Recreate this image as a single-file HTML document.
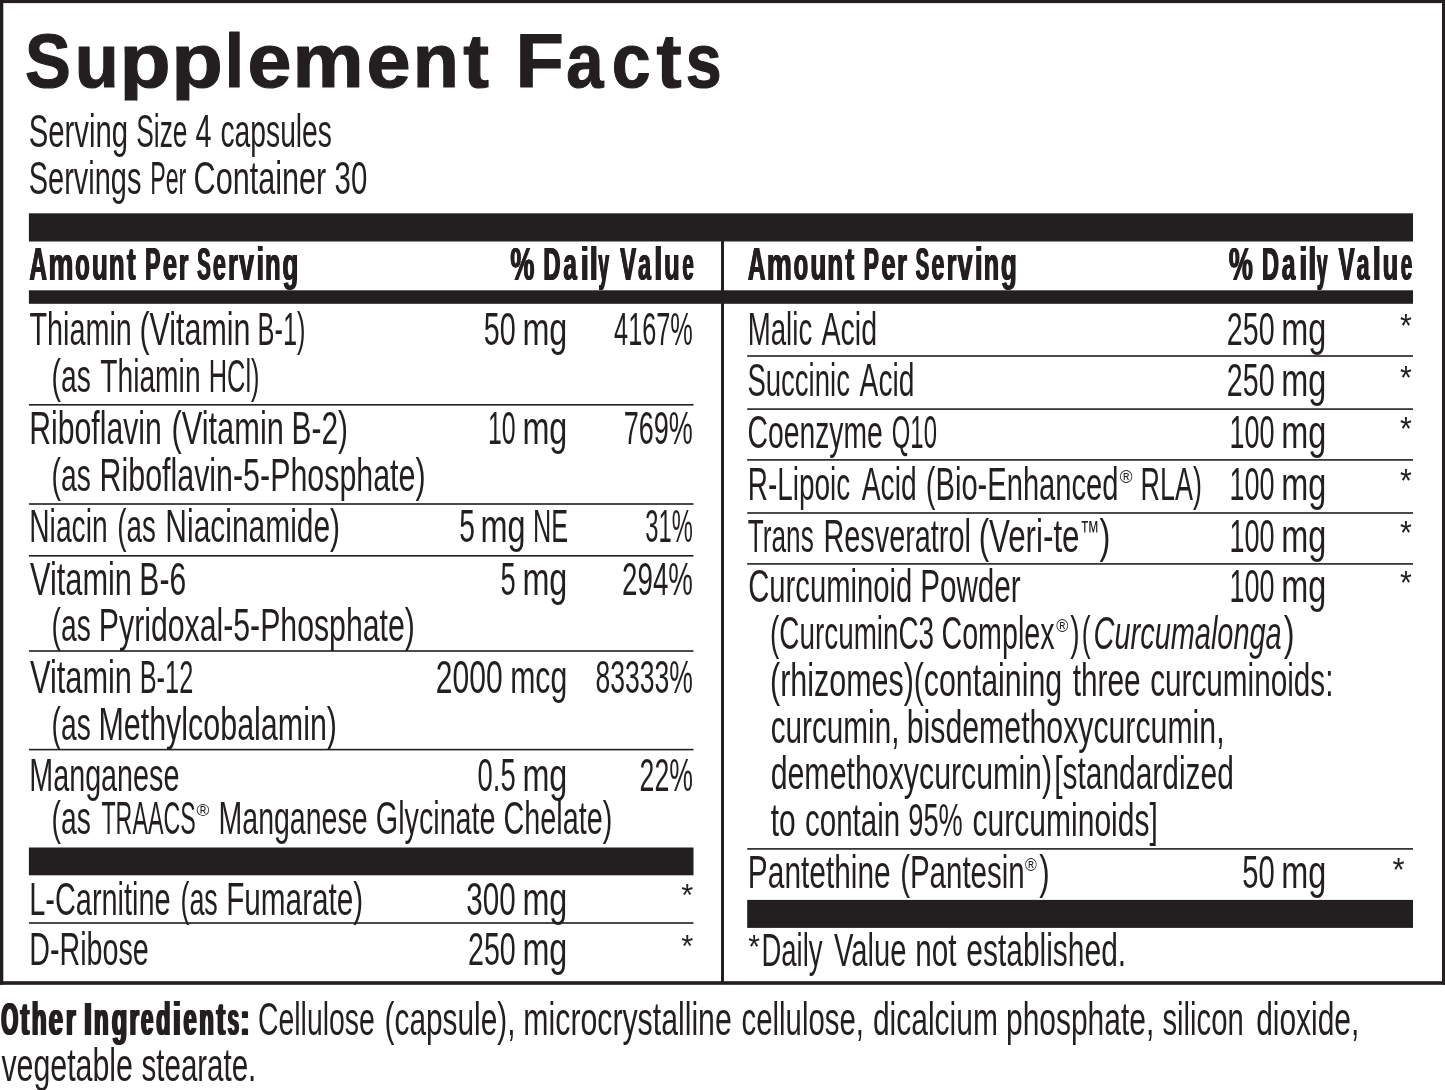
<!DOCTYPE html>
<html lang="en">
<head>
<meta charset="utf-8">
<title>Supplement Facts</title>
<style>
html,body{margin:0;padding:0;background:#fff;}
body{width:1445px;height:1090px;overflow:hidden;font-family:"Liberation Sans",sans-serif;}
svg{display:block;}
svg text{font-family:"Liberation Sans",sans-serif;fill:#231f20;white-space:pre;}
</style>
</head>
<body>
<svg width="1445" height="1090" viewBox="0 0 1445 1090">
<defs>
<filter id="fb" filterUnits="userSpaceOnUse" x="0" y="0" width="1445" height="1090" color-interpolation-filters="sRGB">
<feOffset in="SourceGraphic" dx="0.5" dy="0" result="a"/>
<feOffset in="SourceGraphic" dx="-0.5" dy="0" result="b"/>
<feMerge><feMergeNode in="a"/><feMergeNode in="b"/><feMergeNode in="SourceGraphic"/></feMerge>
</filter>
<filter id="fh" filterUnits="userSpaceOnUse" x="0" y="0" width="1445" height="1090" color-interpolation-filters="sRGB">
<feOffset in="SourceGraphic" dx="0.6" dy="0" result="a"/>
<feOffset in="SourceGraphic" dx="-0.6" dy="0" result="b"/>
<feMerge><feMergeNode in="a"/><feMergeNode in="b"/><feMergeNode in="SourceGraphic"/></feMerge>
</filter>
<clipPath id="tc"><rect x="0" y="0" width="1445" height="100.4"/></clipPath>
</defs>
<rect x="0" y="0" width="1445" height="1090" fill="#ffffff"/>
<g class="frame" fill="#231f20">
<rect x="0" y="0" width="1445" height="3.1"/>
<rect x="0" y="981.2" width="1445" height="3.6"/>
<rect x="0" y="0" width="3.3" height="984.8"/>
<rect x="1442" y="0" width="3" height="984.8"/>
</g>
<g class="rules" fill="#231f20">
<rect x="28.90" y="213.30" width="1384.10" height="28.20"/>
<rect x="28.90" y="290.30" width="1384.10" height="13.50"/>
<rect x="28.90" y="847.50" width="664.60" height="27.80"/>
<rect x="747.20" y="899.90" width="665.80" height="28.00"/>
<rect x="721.00" y="241.00" width="3.00" height="741.00"/>
<rect x="28.90" y="404.00" width="664.60" height="1.60"/>
<rect x="28.90" y="503.20" width="664.60" height="1.60"/>
<rect x="28.90" y="555.00" width="664.60" height="1.60"/>
<rect x="28.90" y="650.20" width="664.60" height="1.60"/>
<rect x="28.90" y="748.80" width="664.60" height="1.60"/>
<rect x="28.90" y="922.20" width="664.60" height="1.60"/>
<rect x="747.20" y="355.20" width="665.80" height="1.60"/>
<rect x="747.20" y="408.30" width="665.80" height="1.60"/>
<rect x="747.20" y="459.10" width="665.80" height="1.60"/>
<rect x="747.20" y="512.20" width="665.80" height="1.60"/>
<rect x="747.20" y="563.10" width="665.80" height="1.60"/>
<rect x="747.20" y="848.10" width="665.80" height="1.60"/>
</g>
<g class="title" clip-path="url(#tc)" stroke="#231f20" stroke-width="1.2" stroke-linejoin="round">
<text y="87.20" font-size="76.30" font-weight="bold"><tspan x="25.10" textLength="45.80" lengthAdjust="spacingAndGlyphs">S</tspan><tspan x="74.72" textLength="44.03" lengthAdjust="spacingAndGlyphs">u</tspan><tspan x="119.51" textLength="51.15" lengthAdjust="spacingAndGlyphs">p</tspan><tspan x="171.26" textLength="51.62" lengthAdjust="spacingAndGlyphs">p</tspan><tspan x="224.75" textLength="19.27" lengthAdjust="spacingAndGlyphs">l</tspan><tspan x="247.53" textLength="43.88" lengthAdjust="spacingAndGlyphs">e</tspan><tspan x="292.56" textLength="71.06" lengthAdjust="spacingAndGlyphs">m</tspan><tspan x="366.62" textLength="44.11" lengthAdjust="spacingAndGlyphs">e</tspan><tspan x="412.85" textLength="46.10" lengthAdjust="spacingAndGlyphs">n</tspan><tspan x="463.30" textLength="25.71" lengthAdjust="spacingAndGlyphs">t</tspan> <tspan x="515.61" textLength="48.40" lengthAdjust="spacingAndGlyphs">F</tspan><tspan x="566.14" textLength="37.26" lengthAdjust="spacingAndGlyphs">a</tspan><tspan x="611.87" textLength="38.84" lengthAdjust="spacingAndGlyphs">c</tspan><tspan x="656.60" textLength="25.10" lengthAdjust="spacingAndGlyphs">t</tspan><tspan x="685.81" textLength="35.84" lengthAdjust="spacingAndGlyphs">s</tspan></text>
</g>
<g class="bold" filter="url(#fb)">
<text y="279.80" font-size="46.40" font-weight="bold"><tspan x="28.98" textLength="17.59" lengthAdjust="spacingAndGlyphs">A</tspan><tspan x="47.98" textLength="24.98" lengthAdjust="spacingAndGlyphs">m</tspan><tspan x="74.79" textLength="14.50" lengthAdjust="spacingAndGlyphs">o</tspan><tspan x="91.58" textLength="15.82" lengthAdjust="spacingAndGlyphs">u</tspan><tspan x="108.54" textLength="15.65" lengthAdjust="spacingAndGlyphs">n</tspan><tspan x="126.60" textLength="8.75" lengthAdjust="spacingAndGlyphs">t</tspan> <tspan x="144.82" textLength="15.24" lengthAdjust="spacingAndGlyphs">P</tspan><tspan x="162.55" textLength="14.08" lengthAdjust="spacingAndGlyphs">e</tspan><tspan x="178.28" textLength="9.75" lengthAdjust="spacingAndGlyphs">r</tspan> <tspan x="196.86" textLength="13.55" lengthAdjust="spacingAndGlyphs">S</tspan><tspan x="212.40" textLength="12.90" lengthAdjust="spacingAndGlyphs">e</tspan><tspan x="227.68" textLength="9.75" lengthAdjust="spacingAndGlyphs">r</tspan><tspan x="238.70" textLength="14.79" lengthAdjust="spacingAndGlyphs">v</tspan><tspan x="255.90" textLength="7.73" lengthAdjust="spacingAndGlyphs">i</tspan><tspan x="264.77" textLength="15.40" lengthAdjust="spacingAndGlyphs">n</tspan><tspan x="282.04" textLength="15.87" lengthAdjust="spacingAndGlyphs">g</tspan></text>
<text y="279.80" font-size="46.40" font-weight="bold"><tspan x="510.02" textLength="23.92" lengthAdjust="spacingAndGlyphs">%</tspan> <tspan x="542.97" textLength="17.10" lengthAdjust="spacingAndGlyphs">D</tspan><tspan x="562.98" textLength="13.40" lengthAdjust="spacingAndGlyphs">a</tspan><tspan x="580.27" textLength="8.29" lengthAdjust="spacingAndGlyphs">i</tspan><tspan x="589.27" textLength="8.29" lengthAdjust="spacingAndGlyphs">l</tspan><tspan x="598.10" textLength="10.62" lengthAdjust="spacingAndGlyphs">y</tspan> <tspan x="619.80" textLength="15.97" lengthAdjust="spacingAndGlyphs">V</tspan><tspan x="637.70" textLength="12.80" lengthAdjust="spacingAndGlyphs">a</tspan><tspan x="653.87" textLength="8.29" lengthAdjust="spacingAndGlyphs">l</tspan><tspan x="663.81" textLength="15.47" lengthAdjust="spacingAndGlyphs">u</tspan><tspan x="682.06" textLength="11.29" lengthAdjust="spacingAndGlyphs">e</tspan></text>
<text y="279.80" font-size="46.40" font-weight="bold"><tspan x="747.48" textLength="17.59" lengthAdjust="spacingAndGlyphs">A</tspan><tspan x="766.48" textLength="24.98" lengthAdjust="spacingAndGlyphs">m</tspan><tspan x="793.29" textLength="14.50" lengthAdjust="spacingAndGlyphs">o</tspan><tspan x="810.08" textLength="15.82" lengthAdjust="spacingAndGlyphs">u</tspan><tspan x="827.04" textLength="15.65" lengthAdjust="spacingAndGlyphs">n</tspan><tspan x="845.10" textLength="8.75" lengthAdjust="spacingAndGlyphs">t</tspan> <tspan x="863.32" textLength="15.24" lengthAdjust="spacingAndGlyphs">P</tspan><tspan x="881.05" textLength="14.08" lengthAdjust="spacingAndGlyphs">e</tspan><tspan x="896.78" textLength="9.75" lengthAdjust="spacingAndGlyphs">r</tspan> <tspan x="915.36" textLength="13.55" lengthAdjust="spacingAndGlyphs">S</tspan><tspan x="930.90" textLength="12.90" lengthAdjust="spacingAndGlyphs">e</tspan><tspan x="946.18" textLength="9.75" lengthAdjust="spacingAndGlyphs">r</tspan><tspan x="957.20" textLength="14.79" lengthAdjust="spacingAndGlyphs">v</tspan><tspan x="974.40" textLength="7.73" lengthAdjust="spacingAndGlyphs">i</tspan><tspan x="983.27" textLength="15.40" lengthAdjust="spacingAndGlyphs">n</tspan><tspan x="1000.54" textLength="15.87" lengthAdjust="spacingAndGlyphs">g</tspan></text>
<text y="279.80" font-size="46.40" font-weight="bold"><tspan x="1228.52" textLength="23.92" lengthAdjust="spacingAndGlyphs">%</tspan> <tspan x="1261.47" textLength="17.10" lengthAdjust="spacingAndGlyphs">D</tspan><tspan x="1281.48" textLength="13.40" lengthAdjust="spacingAndGlyphs">a</tspan><tspan x="1298.77" textLength="8.29" lengthAdjust="spacingAndGlyphs">i</tspan><tspan x="1307.77" textLength="8.29" lengthAdjust="spacingAndGlyphs">l</tspan><tspan x="1316.60" textLength="10.62" lengthAdjust="spacingAndGlyphs">y</tspan> <tspan x="1338.30" textLength="15.97" lengthAdjust="spacingAndGlyphs">V</tspan><tspan x="1356.20" textLength="12.80" lengthAdjust="spacingAndGlyphs">a</tspan><tspan x="1372.37" textLength="8.29" lengthAdjust="spacingAndGlyphs">l</tspan><tspan x="1382.31" textLength="15.47" lengthAdjust="spacingAndGlyphs">u</tspan><tspan x="1400.56" textLength="11.29" lengthAdjust="spacingAndGlyphs">e</tspan></text>
</g>
<g class="heavy" filter="url(#fh)">
<text y="1034.80" font-size="46.40" font-weight="bold"><tspan x="1.23" textLength="16.98" lengthAdjust="spacingAndGlyphs">O</tspan><tspan x="20.50" textLength="8.75" lengthAdjust="spacingAndGlyphs">t</tspan><tspan x="31.72" textLength="14.91" lengthAdjust="spacingAndGlyphs">h</tspan><tspan x="48.75" textLength="14.19" lengthAdjust="spacingAndGlyphs">e</tspan><tspan x="66.00" textLength="9.63" lengthAdjust="spacingAndGlyphs">r</tspan> <tspan x="83.83" textLength="8.47" lengthAdjust="spacingAndGlyphs">I</tspan><tspan x="93.95" textLength="14.66" lengthAdjust="spacingAndGlyphs">n</tspan><tspan x="111.85" textLength="15.53" lengthAdjust="spacingAndGlyphs">g</tspan><tspan x="129.42" textLength="9.51" lengthAdjust="spacingAndGlyphs">r</tspan><tspan x="140.92" textLength="12.36" lengthAdjust="spacingAndGlyphs">e</tspan><tspan x="156.30" textLength="14.17" lengthAdjust="spacingAndGlyphs">d</tspan><tspan x="172.67" textLength="8.29" lengthAdjust="spacingAndGlyphs">i</tspan><tspan x="183.49" textLength="13.12" lengthAdjust="spacingAndGlyphs">e</tspan><tspan x="199.25" textLength="14.66" lengthAdjust="spacingAndGlyphs">n</tspan><tspan x="216.40" textLength="8.75" lengthAdjust="spacingAndGlyphs">t</tspan><tspan x="227.77" textLength="11.22" lengthAdjust="spacingAndGlyphs">s</tspan><tspan x="239.93" textLength="9.93" lengthAdjust="spacingAndGlyphs">:</tspan></text>
</g>
<g class="reg">
<text y="147.20" font-size="46.40"><tspan x="28.74" textLength="99.33" lengthAdjust="spacingAndGlyphs">Serving</tspan> <tspan x="136.26" textLength="51.26" lengthAdjust="spacingAndGlyphs">Size</tspan> <tspan x="195.38" textLength="16.02" lengthAdjust="spacingAndGlyphs">4</tspan> <tspan x="220.49" textLength="111.44" lengthAdjust="spacingAndGlyphs">capsules</tspan></text>
<text y="193.80" font-size="46.40"><tspan x="28.75" textLength="112.70" lengthAdjust="spacingAndGlyphs">Servings</tspan> <tspan x="150.30" textLength="36.02" lengthAdjust="spacingAndGlyphs">Per</tspan> <tspan x="193.58" textLength="132.72" lengthAdjust="spacingAndGlyphs">Container</tspan> <tspan x="334.57" textLength="32.67" lengthAdjust="spacingAndGlyphs">30</tspan></text>
<text y="344.60" font-size="46.40"><tspan x="29.38" textLength="102.46" lengthAdjust="spacingAndGlyphs">Thiamin</tspan> <tspan x="139.39" textLength="111.15" lengthAdjust="spacingAndGlyphs">(Vitamin</tspan> <tspan x="257.56" textLength="47.98" lengthAdjust="spacingAndGlyphs">B-1)</tspan></text>
<text y="344.60" font-size="46.40"><tspan x="483.78" textLength="31.93" lengthAdjust="spacingAndGlyphs">50</tspan> <tspan x="522.41" textLength="44.95" lengthAdjust="spacingAndGlyphs">mg</tspan></text>
<text y="344.60" font-size="46.40"><tspan x="614.05" textLength="78.83" lengthAdjust="spacingAndGlyphs">4167%</tspan></text>
<text y="392.00" font-size="46.40"><tspan x="51.59" textLength="39.14" lengthAdjust="spacingAndGlyphs">(as</tspan> <tspan x="100.19" textLength="100.41" lengthAdjust="spacingAndGlyphs">Thiamin</tspan> <tspan x="208.76" textLength="50.78" lengthAdjust="spacingAndGlyphs">HCl)</tspan></text>
<text y="444.10" font-size="46.40"><tspan x="29.15" textLength="132.68" lengthAdjust="spacingAndGlyphs">Riboflavin</tspan> <tspan x="171.47" textLength="112.39" lengthAdjust="spacingAndGlyphs">(Vitamin</tspan> <tspan x="291.57" textLength="56.51" lengthAdjust="spacingAndGlyphs">B-2)</tspan></text>
<text y="444.10" font-size="46.40"><tspan x="487.89" textLength="27.67" lengthAdjust="spacingAndGlyphs">10</tspan> <tspan x="522.41" textLength="44.95" lengthAdjust="spacingAndGlyphs">mg</tspan></text>
<text y="444.10" font-size="46.40"><tspan x="623.73" textLength="69.19" lengthAdjust="spacingAndGlyphs">769%</tspan></text>
<text y="490.70" font-size="46.40"><tspan x="51.59" textLength="39.14" lengthAdjust="spacingAndGlyphs">(as</tspan> <tspan x="99.53" textLength="326.07" lengthAdjust="spacingAndGlyphs">Riboflavin-5-Phosphate)</tspan></text>
<text y="542.40" font-size="46.40"><tspan x="29.28" textLength="78.32" lengthAdjust="spacingAndGlyphs">Niacin</tspan> <tspan x="117.30" textLength="38.51" lengthAdjust="spacingAndGlyphs">(as</tspan> <tspan x="165.36" textLength="174.72" lengthAdjust="spacingAndGlyphs">Niacinamide)</tspan></text>
<text y="542.40" font-size="46.40"><tspan x="459.19" textLength="15.70" lengthAdjust="spacingAndGlyphs">5</tspan> <tspan x="480.50" textLength="45.06" lengthAdjust="spacingAndGlyphs">mg</tspan> <tspan x="532.97" textLength="35.09" lengthAdjust="spacingAndGlyphs">NE</tspan></text>
<text y="542.40" font-size="46.40"><tspan x="645.29" textLength="47.55" lengthAdjust="spacingAndGlyphs">31%</tspan></text>
<text y="594.50" font-size="46.40"><tspan x="30.00" textLength="101.96" lengthAdjust="spacingAndGlyphs">Vitamin</tspan> <tspan x="139.35" textLength="46.81" lengthAdjust="spacingAndGlyphs">B-6</tspan></text>
<text y="594.50" font-size="46.40"><tspan x="500.41" textLength="15.26" lengthAdjust="spacingAndGlyphs">5</tspan> <tspan x="522.41" textLength="44.95" lengthAdjust="spacingAndGlyphs">mg</tspan></text>
<text y="594.50" font-size="46.40"><tspan x="622.11" textLength="70.84" lengthAdjust="spacingAndGlyphs">294%</tspan></text>
<text y="640.80" font-size="46.40"><tspan x="51.59" textLength="39.14" lengthAdjust="spacingAndGlyphs">(as</tspan> <tspan x="98.84" textLength="316.05" lengthAdjust="spacingAndGlyphs">Pyridoxal-5-Phosphate)</tspan></text>
<text y="692.80" font-size="46.40"><tspan x="30.00" textLength="101.96" lengthAdjust="spacingAndGlyphs">Vitamin</tspan> <tspan x="139.66" textLength="53.63" lengthAdjust="spacingAndGlyphs">B-12</tspan></text>
<text y="692.80" font-size="46.40"><tspan x="435.80" textLength="66.86" lengthAdjust="spacingAndGlyphs">2000</tspan> <tspan x="510.15" textLength="57.08" lengthAdjust="spacingAndGlyphs">mcg</tspan></text>
<text y="692.80" font-size="46.40"><tspan x="595.56" textLength="97.36" lengthAdjust="spacingAndGlyphs">83333%</tspan></text>
<text y="740.00" font-size="46.40"><tspan x="51.59" textLength="39.14" lengthAdjust="spacingAndGlyphs">(as</tspan> <tspan x="98.43" textLength="238.58" lengthAdjust="spacingAndGlyphs">Methylcobalamin)</tspan></text>
<text y="791.00" font-size="46.40"><tspan x="29.24" textLength="150.17" lengthAdjust="spacingAndGlyphs">Manganese</tspan></text>
<text y="791.00" font-size="46.40"><tspan x="477.51" textLength="38.16" lengthAdjust="spacingAndGlyphs">0.5</tspan> <tspan x="522.41" textLength="44.95" lengthAdjust="spacingAndGlyphs">mg</tspan></text>
<text y="791.00" font-size="46.40"><tspan x="639.55" textLength="53.37" lengthAdjust="spacingAndGlyphs">22%</tspan></text>
<text y="833.60" font-size="46.40"><tspan x="51.59" textLength="39.14" lengthAdjust="spacingAndGlyphs">(as</tspan> <tspan x="101.40" textLength="94.27" lengthAdjust="spacingAndGlyphs">TRAACS</tspan><tspan x="196.52" y="816.43" font-size="17.32" textLength="12.89" lengthAdjust="spacingAndGlyphs">®</tspan> <tspan x="218.56" y="833.60" font-size="46.40" textLength="148.95" lengthAdjust="spacingAndGlyphs">Manganese</tspan> <tspan x="375.86" textLength="119.65" lengthAdjust="spacingAndGlyphs">Glycinate</tspan> <tspan x="503.56" textLength="108.76" lengthAdjust="spacingAndGlyphs">Chelate)</tspan></text>
<text y="914.50" font-size="46.40"><tspan x="29.23" textLength="141.39" lengthAdjust="spacingAndGlyphs">L-Carnitine</tspan> <tspan x="180.44" textLength="37.35" lengthAdjust="spacingAndGlyphs">(as</tspan> <tspan x="226.18" textLength="137.09" lengthAdjust="spacingAndGlyphs">Fumarate)</tspan></text>
<text y="914.50" font-size="46.40"><tspan x="466.36" textLength="49.39" lengthAdjust="spacingAndGlyphs">300</tspan> <tspan x="522.41" textLength="44.95" lengthAdjust="spacingAndGlyphs">mg</tspan></text>
<text y="965.20" font-size="46.40"><tspan x="29.25" textLength="119.47" lengthAdjust="spacingAndGlyphs">D-Ribose</tspan></text>
<text y="965.20" font-size="46.40"><tspan x="467.97" textLength="47.74" lengthAdjust="spacingAndGlyphs">250</tspan> <tspan x="522.41" textLength="44.95" lengthAdjust="spacingAndGlyphs">mg</tspan></text>
<text y="344.60" font-size="46.40"><tspan x="747.71" textLength="64.50" lengthAdjust="spacingAndGlyphs">Malic</tspan> <tspan x="821.50" textLength="55.63" lengthAdjust="spacingAndGlyphs">Acid</tspan></text>
<text y="344.60" font-size="46.40"><tspan x="1226.87" textLength="47.74" lengthAdjust="spacingAndGlyphs">250</tspan> <tspan x="1281.20" textLength="45.06" lengthAdjust="spacingAndGlyphs">mg</tspan></text>
<text y="396.40" font-size="46.40"><tspan x="747.41" textLength="102.50" lengthAdjust="spacingAndGlyphs">Succinic</tspan> <tspan x="859.60" textLength="54.80" lengthAdjust="spacingAndGlyphs">Acid</tspan></text>
<text y="396.40" font-size="46.40"><tspan x="1226.87" textLength="47.74" lengthAdjust="spacingAndGlyphs">250</tspan> <tspan x="1281.20" textLength="45.06" lengthAdjust="spacingAndGlyphs">mg</tspan></text>
<text y="447.70" font-size="46.40"><tspan x="747.58" textLength="135.22" lengthAdjust="spacingAndGlyphs">Coenzyme</tspan> <tspan x="891.77" textLength="45.16" lengthAdjust="spacingAndGlyphs">Q10</tspan></text>
<text y="447.70" font-size="46.40"><tspan x="1229.56" textLength="44.99" lengthAdjust="spacingAndGlyphs">100</tspan> <tspan x="1281.20" textLength="45.06" lengthAdjust="spacingAndGlyphs">mg</tspan></text>
<text y="500.00" font-size="46.40"><tspan x="747.79" textLength="102.53" lengthAdjust="spacingAndGlyphs">R-Lipoic</tspan> <tspan x="861.80" textLength="54.80" lengthAdjust="spacingAndGlyphs">Acid</tspan> <tspan x="925.84" textLength="192.61" lengthAdjust="spacingAndGlyphs">(Bio-Enhanced</tspan><tspan x="1119.83" y="483.12" font-size="17.61" textLength="12.79" lengthAdjust="spacingAndGlyphs">®</tspan> <tspan x="1140.46" y="500.00" font-size="46.40" textLength="61.47" lengthAdjust="spacingAndGlyphs">RLA)</tspan></text>
<text y="500.00" font-size="46.40"><tspan x="1229.56" textLength="44.99" lengthAdjust="spacingAndGlyphs">100</tspan> <tspan x="1281.20" textLength="45.06" lengthAdjust="spacingAndGlyphs">mg</tspan></text>
<text y="551.60" font-size="46.40"><tspan x="747.84" textLength="65.94" lengthAdjust="spacingAndGlyphs">Trans</tspan> <tspan x="823.43" textLength="147.50" lengthAdjust="spacingAndGlyphs">Resveratrol</tspan> <tspan x="978.65" textLength="100.86" lengthAdjust="spacingAndGlyphs">(Veri-te</tspan><tspan x="1079.71" y="542.43" font-size="30.77" textLength="19.88" lengthAdjust="spacingAndGlyphs">™</tspan><tspan x="1099.60" y="551.60" font-size="46.40" textLength="10.93" lengthAdjust="spacingAndGlyphs">)</tspan></text>
<text y="551.60" font-size="46.40"><tspan x="1229.56" textLength="44.99" lengthAdjust="spacingAndGlyphs">100</tspan> <tspan x="1281.20" textLength="45.06" lengthAdjust="spacingAndGlyphs">mg</tspan></text>
<text y="601.80" font-size="46.40"><tspan x="748.14" textLength="164.23" lengthAdjust="spacingAndGlyphs">Curcuminoid</tspan> <tspan x="920.19" textLength="100.40" lengthAdjust="spacingAndGlyphs">Powder</tspan></text>
<text y="601.80" font-size="46.40"><tspan x="1229.56" textLength="44.99" lengthAdjust="spacingAndGlyphs">100</tspan> <tspan x="1281.20" textLength="45.06" lengthAdjust="spacingAndGlyphs">mg</tspan></text>
<text y="649.40" font-size="46.40"><tspan x="770.10" textLength="163.98" lengthAdjust="spacingAndGlyphs">(CurcuminC3</tspan> <tspan x="941.46" textLength="113.06" lengthAdjust="spacingAndGlyphs">Complex</tspan><tspan x="1056.24" y="632.32" font-size="18.03" textLength="12.08" lengthAdjust="spacingAndGlyphs">®</tspan><tspan x="1070.30" y="649.40" font-size="46.40" textLength="9.39" lengthAdjust="spacingAndGlyphs">)</tspan><tspan x="1081.86" textLength="8.83" lengthAdjust="spacingAndGlyphs">(</tspan><tspan x="1093.55" font-style="italic" textLength="188.15" lengthAdjust="spacingAndGlyphs">Curcumalonga</tspan><tspan x="1283.80" textLength="10.81" lengthAdjust="spacingAndGlyphs">)</tspan></text>
<text y="696.00" font-size="46.40"><tspan x="769.99" textLength="143.92" lengthAdjust="spacingAndGlyphs">(rhizomes)</tspan><tspan x="913.69" textLength="148.54" lengthAdjust="spacingAndGlyphs">(containing</tspan> <tspan x="1072.70" textLength="67.86" lengthAdjust="spacingAndGlyphs">three</tspan> <tspan x="1150.16" textLength="183.33" lengthAdjust="spacingAndGlyphs">curcuminoids:</tspan></text>
<text y="742.50" font-size="46.40"><tspan x="770.66" textLength="128.83" lengthAdjust="spacingAndGlyphs">curcumin,</tspan> <tspan x="906.80" textLength="317.74" lengthAdjust="spacingAndGlyphs">bisdemethoxycurcumin,</tspan></text>
<text y="789.30" font-size="46.40"><tspan x="770.65" textLength="281.45" lengthAdjust="spacingAndGlyphs">demethoxycurcumin)</tspan><tspan x="1054.17" textLength="179.64" lengthAdjust="spacingAndGlyphs">[standardized</tspan></text>
<text y="836.30" font-size="46.40"><tspan x="770.80" textLength="24.96" lengthAdjust="spacingAndGlyphs">to</tspan> <tspan x="805.06" textLength="95.12" lengthAdjust="spacingAndGlyphs">contain</tspan> <tspan x="908.33" textLength="54.51" lengthAdjust="spacingAndGlyphs">95%</tspan> <tspan x="972.55" textLength="185.32" lengthAdjust="spacingAndGlyphs">curcuminoids]</tspan></text>
<text y="888.30" font-size="46.40"><tspan x="747.87" textLength="142.79" lengthAdjust="spacingAndGlyphs">Pantethine</tspan> <tspan x="900.13" textLength="124.55" lengthAdjust="spacingAndGlyphs">(Pantesin</tspan><tspan x="1024.94" y="871.03" font-size="17.46" textLength="11.87" lengthAdjust="spacingAndGlyphs">®</tspan><tspan x="1039.20" y="888.30" font-size="46.40" textLength="10.46" lengthAdjust="spacingAndGlyphs">)</tspan></text>
<text y="888.30" font-size="46.40"><tspan x="1242.17" textLength="32.46" lengthAdjust="spacingAndGlyphs">50</tspan> <tspan x="1281.20" textLength="45.06" lengthAdjust="spacingAndGlyphs">mg</tspan></text>
<text y="966.30" font-size="46.40"><tspan x="748.30" y="958.42" font-size="32.78" textLength="11.78" lengthAdjust="spacingAndGlyphs">*</tspan><tspan x="761.53" y="966.30" font-size="46.40" textLength="61.00" lengthAdjust="spacingAndGlyphs">Daily</tspan> <tspan x="834.10" textLength="72.33" lengthAdjust="spacingAndGlyphs">Value</tspan> <tspan x="915.28" textLength="41.35" lengthAdjust="spacingAndGlyphs">not</tspan> <tspan x="966.35" textLength="159.75" lengthAdjust="spacingAndGlyphs">established.</tspan></text>
<text y="1034.80" font-size="46.40"><tspan x="257.98" textLength="116.83" lengthAdjust="spacingAndGlyphs">Cellulose</tspan> <tspan x="384.61" textLength="130.88" lengthAdjust="spacingAndGlyphs">(capsule),</tspan> <tspan x="523.34" textLength="208.43" lengthAdjust="spacingAndGlyphs">microcrystalline</tspan> <tspan x="741.57" textLength="122.29" lengthAdjust="spacingAndGlyphs">cellulose,</tspan> <tspan x="872.95" textLength="124.95" lengthAdjust="spacingAndGlyphs">dicalcium</tspan> <tspan x="1006.01" textLength="148.20" lengthAdjust="spacingAndGlyphs">phosphate,</tspan> <tspan x="1162.47" textLength="81.30" lengthAdjust="spacingAndGlyphs">silicon</tspan> <tspan x="1256.15" textLength="103.15" lengthAdjust="spacingAndGlyphs">dioxide,</tspan></text>
<text y="1081.00" font-size="46.40"><tspan x="1.40" textLength="131.58" lengthAdjust="spacingAndGlyphs">vegetable</tspan> <tspan x="141.56" textLength="114.71" lengthAdjust="spacingAndGlyphs">stearate.</tspan></text>
</g>
<g class="sym">
<text y="914.50" font-size="46.40"><tspan x="681.19" y="906.05" font-size="31.67" textLength="11.99" lengthAdjust="spacingAndGlyphs">*</tspan></text>
<text y="965.20" font-size="46.40"><tspan x="681.19" y="957.13" font-size="32.22" textLength="11.99" lengthAdjust="spacingAndGlyphs">*</tspan></text>
<text y="344.60" font-size="46.40"><tspan x="1400.09" y="336.82" font-size="32.78" textLength="11.89" lengthAdjust="spacingAndGlyphs">*</tspan></text>
<text y="396.40" font-size="46.40"><tspan x="1400.09" y="388.62" font-size="32.78" textLength="11.89" lengthAdjust="spacingAndGlyphs">*</tspan></text>
<text y="447.70" font-size="46.40"><tspan x="1400.09" y="439.92" font-size="32.78" textLength="11.89" lengthAdjust="spacingAndGlyphs">*</tspan></text>
<text y="500.00" font-size="46.40"><tspan x="1400.09" y="492.22" font-size="32.78" textLength="11.89" lengthAdjust="spacingAndGlyphs">*</tspan></text>
<text y="551.60" font-size="46.40"><tspan x="1400.09" y="543.82" font-size="32.78" textLength="11.89" lengthAdjust="spacingAndGlyphs">*</tspan></text>
<text y="601.80" font-size="46.40"><tspan x="1400.09" y="594.02" font-size="32.78" textLength="11.89" lengthAdjust="spacingAndGlyphs">*</tspan></text>
<text y="888.30" font-size="46.40"><tspan x="1392.59" y="880.52" font-size="32.78" textLength="12.10" lengthAdjust="spacingAndGlyphs">*</tspan></text>
</g>
</svg>
</body>
</html>
